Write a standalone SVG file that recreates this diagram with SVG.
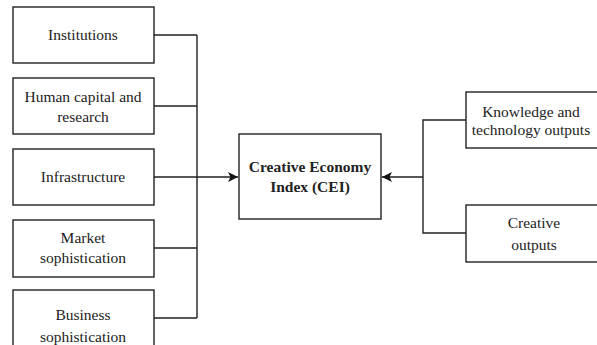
<svg xmlns="http://www.w3.org/2000/svg" width="597" height="345" viewBox="0 0 597 345">
<style>
.box{fill:#fff;stroke:#222;stroke-width:1.4}
.t{font-family:'Liberation Serif','DejaVu Serif',serif;font-size:15.5px;fill:#222;text-anchor:middle}
.b{font-weight:bold}
.c{fill:none;stroke:#222;stroke-width:1.4}
</style>
<defs>
<marker id="ah" viewBox="0 0 10 10" refX="10" refY="5" markerWidth="10" markerHeight="10" markerUnits="userSpaceOnUse" orient="auto">
<path d="M0,0 L10,5 L0,10 L2.5,5 z" fill="#111"/>
</marker>
</defs>
<rect width="597" height="345" fill="#fff"/>
<g id="connectors">
<path class="c" d="M154,35 H197 M154,106 H197 M154,177 H197 M154,248 H197 M154,318 H197 M197,35 V318"/>
<path class="c" d="M197,177 H238" marker-end="url(#ah)"/>
<path class="c" d="M466,120 H423 V233 H466"/>
<path class="c" d="M423,177 H382" marker-end="url(#ah)"/>
</g>
<g id="institutions"><rect class="box" x="13" y="7" width="141" height="56"/><text class="t" x="83" y="40">Institutions</text></g>
<g id="human-capital"><rect class="box" x="13" y="78" width="141" height="56"/><text class="t" x="83" y="102">Human capital and</text><text class="t" x="83" y="122">research</text></g>
<g id="infrastructure"><rect class="box" x="13" y="149" width="141" height="56"/><text class="t" x="83" y="182">Infrastructure</text></g>
<g id="market"><rect class="box" x="13" y="220" width="141" height="57"/><text class="t" x="83" y="243">Market</text><text class="t" x="83" y="263">sophistication</text></g>
<g id="business"><rect class="box" x="13" y="290" width="141" height="60"/><text class="t" x="83" y="320">Business</text><text class="t" x="83" y="342">sophistication</text></g>
<g id="cei"><rect class="box" x="239" y="134" width="142" height="85"/><text class="t b" x="310" y="172">Creative Economy</text><text class="t b" x="310" y="192">Index (CEI)</text></g>
<g id="knowledge"><rect class="box" x="466" y="92" width="134" height="56"/><text class="t" x="531" y="117">Knowledge and</text><text class="t" x="531" y="135">technology outputs</text></g>
<g id="creative"><rect class="box" x="466" y="205" width="134" height="57"/><text class="t" x="534" y="228">Creative</text><text class="t" x="534" y="250">outputs</text></g>
</svg>
